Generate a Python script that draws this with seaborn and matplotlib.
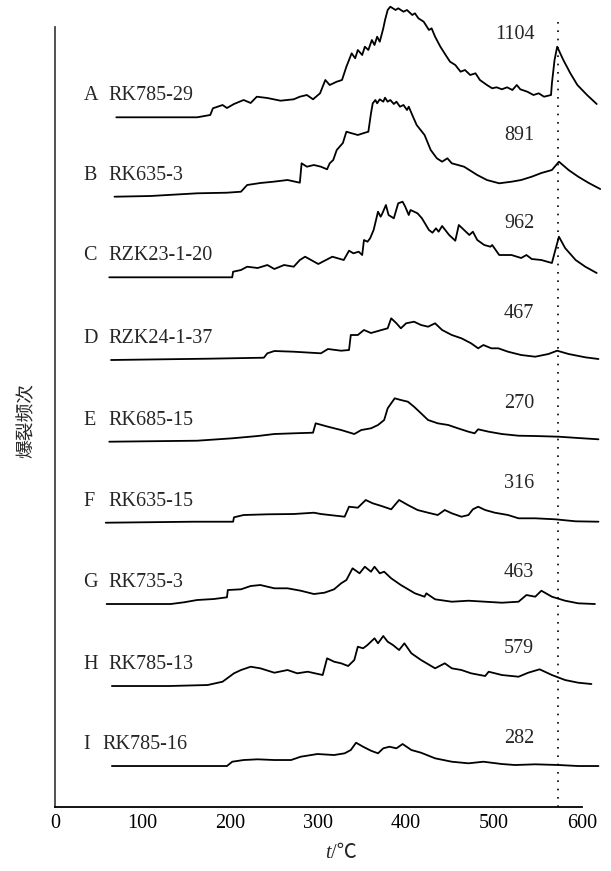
import numpy as np
import pandas as pd
import seaborn as sns
import matplotlib.pyplot as plt

# sample names and total decrepitation counts, top to bottom
letters = ["A", "B", "C", "D", "E", "F", "G", "H", "I"]
samples = ["RK785-29", "RK635-3", "RZK23-1-20", "RZK24-1-37", "RK685-15",
           "RK635-15", "RK735-3", "RK785-13", "RK785-16"]
counts = ["1104", "891", "962", "467", "270", "316", "463", "579", "282"]

# each curve is read as (t, height above its own flat start)
a_t = [70, 162, 177, 180, 191, 196, 204, 215, 223, 230, 242, 257, 272, 279, 287, 294, 302, 308,
       313, 321, 327, 332, 338, 342, 345, 350, 353, 357, 361, 364, 367, 370, 374, 376, 379, 382,
       388, 391, 397, 401, 407, 410, 414, 420, 426, 429, 433, 439, 445, 450, 456, 462, 467, 473,
       479, 484, 492, 498, 503, 509, 515, 521, 526, 530, 538, 545, 551, 557, 565, 566, 569, 572,
       579, 587, 595, 606, 617]
a_y = [0, 0, 2.3, 9, 12.3, 9.3, 13.3, 17.3, 14.3, 20.6, 19.3, 16.6, 18, 20.6, 22.3, 18, 24, 37.3,
       32.3, 35.6, 37.3, 50.6, 64, 59, 67.3, 62.3, 70.6, 67.3, 77.3, 72.3, 80.6, 75.6, 89, 97.3,
       107.3, 110.6, 107.3, 109, 105.6, 107.3, 102.3, 104, 99, 95.6, 87.3, 89, 80.6, 70.6, 62.3,
       55.6, 52.3, 45.6, 47.3, 42.3, 44, 37.3, 32.3, 29, 30, 28, 30, 27.3, 32.3, 28, 25.6, 22.3,
       24, 20.6, 22.3, 34, 57.3, 70.6, 57.3, 44, 32.3, 22.3, 13.3]

b_t = [68, 109, 162, 196, 212, 219, 234, 249, 265, 279, 281, 287, 295, 303, 310, 313, 317, 321,
       328, 332, 337, 345, 352, 357, 360, 362, 365, 367, 370, 374, 376, 379, 382, 386, 389, 393,
       397, 401, 403, 407, 412, 421, 428, 435, 441, 447, 452, 466, 481, 492, 506, 520, 531, 543,
       554, 566, 574, 585, 596, 608, 621]
b_y = [0, 0.7, 3.4, 4, 5, 11.7, 13.7, 15, 16.7, 14, 33.4, 30, 31.7, 30, 27.4, 33.4, 36.7, 46.7,
       53.7, 65, 63.7, 61.7, 63.7, 65, 83.4, 93.4, 96.7, 93.4, 97.4, 95, 99, 95, 96.7, 92.7, 95,
       90, 91.7, 86.7, 90, 81.7, 71.7, 61.7, 46.7, 38.4, 35, 38.4, 33.4, 30, 21.7, 16.7, 13.4, 15,
       16.7, 20, 23.7, 26.7, 35, 26.7, 20, 13.7, 7.7]

c_t = [62, 202, 203, 212, 219, 231, 242, 250, 261, 272, 279, 285, 300, 316, 329, 335, 340, 346,
       350, 352, 356, 359, 363, 368, 371, 373, 377, 380, 386, 391, 396, 399, 403, 405, 413, 418,
       426, 430, 434, 437, 441, 449, 456, 460, 466, 472, 476, 481, 489, 496, 498, 506, 520, 531,
       537, 543, 554, 566, 569, 574, 581, 593, 604, 617]
c_y = [0, 0, 5.6, 7.3, 10.6, 9.3, 12.3, 8.3, 12.3, 10.6, 17.3, 20.6, 13.3, 20.6, 17.3, 26.6, 24,
       25.6, 22.3, 37.3, 35.6, 39, 47.3, 65.6, 60.6, 64, 72.3, 62.3, 59, 74, 75.6, 70.6, 62.3,
       67.3, 64, 59, 47.3, 44.6, 49, 45.6, 51.3, 42.3, 36.6, 52.3, 47.3, 42.3, 45.6, 37.3, 32.3,
       30.6, 32.3, 22.3, 22.3, 19.3, 22.3, 18.3, 17.3, 14.3, 24.3, 40.6, 29.3, 17.3, 10.6, 4.3]

d_t = [64, 174, 238, 242, 250, 272, 303, 311, 326, 335, 337, 345, 352, 360, 372, 379, 383, 389,
       394, 400, 409, 417, 425, 433, 441, 452, 463, 474, 482, 488, 497, 505, 516, 531, 547, 562,
       572, 585, 604, 619]
d_y = [0, 1.3, 2.3, 6.7, 9, 8.3, 6.7, 11, 9.3, 10, 25, 25, 30, 27, 30, 31.7, 41.7, 36.7, 31.7,
       36.7, 38.3, 35, 33.3, 36.7, 30, 25, 21.7, 16.7, 11.7, 15, 11.7, 11.7, 8.3, 5, 3.3, 6, 9.3,
       6, 2.7, 1]

e_t = [62, 162, 202, 231, 250, 272, 294, 297, 311, 326, 341, 349, 360, 368, 375, 379, 383, 387,
       394, 402, 409, 417, 425, 436, 448, 459, 471, 478, 482, 494, 509, 528, 547, 574, 596, 619]
e_y = [0, 1, 3.4, 5.7, 7.7, 8.4, 9, 18.4, 15, 11.7, 7.7, 11.7, 13.4, 16.7, 21.7, 33.4, 38.4, 43.4,
       41.7, 40, 35, 28.4, 21.7, 18.4, 16.7, 13.4, 10, 8.4, 12.4, 10, 7.7, 6, 5.7, 5, 3.7, 2.4]

f_t = [58, 158, 203, 204, 215, 242, 272, 295, 303, 330, 335, 345, 354, 362, 372, 383, 392, 402,
       413, 425, 436, 444, 452, 463, 471, 476, 482, 490, 501, 516, 528, 547, 570, 593, 619]
f_y = [0, 1, 1, 5.4, 7.7, 8.4, 8.7, 10, 8.7, 6, 16, 15, 22.7, 19.4, 16.7, 13.4, 22.7, 17.7, 12.7,
       10, 7.7, 12.7, 9.4, 6, 7.7, 13.4, 16, 12.7, 10, 7.7, 4.4, 4.4, 3.4, 1.4, 1]

g_t = [59, 132, 147, 162, 181, 196, 197, 212, 223, 234, 250, 265, 280, 295, 307, 318, 326, 332,
       339, 347, 353, 360, 364, 370, 375, 383, 394, 410, 421, 423, 433, 452, 471, 490, 509, 528,
       537, 547, 554, 566, 581, 596, 615]
g_y = [0, 0, 1.7, 4, 5, 6.7, 14, 14.7, 18, 19, 15.7, 15.7, 13.3, 10, 11.3, 14.7, 20.7, 24, 35.7,
       30.7, 37.3, 32.3, 37.3, 30.7, 32.3, 25.7, 19, 10.7, 7.3, 10.7, 4.7, 2.3, 3.3, 2.3, 1.3, 2.3,
       9, 7.3, 13.3, 7.3, 3.3, 0.7, 0]

h_t = [65, 130, 174, 191, 204, 212, 223, 234, 250, 265, 276, 288, 305, 310, 318, 326, 334, 341,
       345, 351, 356, 364, 368, 374, 379, 385, 392, 398, 406, 417, 433, 444, 452, 463, 474, 490,
       494, 509, 528, 539, 552, 566, 581, 596, 611]
h_y = [0, 0, 1, 4.3, 12.7, 16, 19.3, 17.7, 13.3, 16, 12.7, 14.3, 11, 27.7, 24.3, 22.7, 20, 26,
       39.3, 37.7, 41, 47.7, 42.7, 50, 44.3, 41, 36, 42.7, 32.7, 26, 17.7, 22.7, 17.7, 16, 12.7, 10,
       14.3, 11, 9.3, 13.3, 16.7, 11, 6, 3.3, 2]

i_t = [65, 196, 202, 215, 231, 250, 269, 280, 299, 318, 330, 337, 343, 351, 360, 368, 374, 381,
       389, 396, 406, 417, 433, 452, 471, 488, 509, 524, 547, 574, 596, 619]
i_y = [0, 0, 4.3, 6, 6.7, 6, 6, 9.3, 12, 11, 12.7, 16, 23.3, 19.3, 15.3, 12.7, 17.7, 19.3, 17.7,
       22, 16, 13.3, 7.7, 4.3, 2.7, 4.3, 2, 1, 1.7, 1, 0, 0]

curve_t = [a_t, b_t, c_t, d_t, e_t, f_t, g_t, h_t, i_t]
curve_y = [a_y, b_y, c_y, d_y, e_y, f_y, g_y, h_y, i_y]

# layout: vertical shift of every curve, where its labels sit
offsets = [689.4, 610.0, 529.4, 446.7, 365.0, 284.0, 202.7, 120.7, 40.7]
count_dy = [78, 56.7, 49.3, 41.7, 33.4, 34.4, 27.3, 32.7, 22.7]
name_x = [61, 61, 61, 61, 61, 61, 61, 61, 54.5]
quartz_t = 573.5

frames = []
for k in range(len(samples)):
    frames.append(pd.DataFrame({
        "t": curve_t[k],
        "y": np.array(curve_y[k]) + offsets[k],
        "sample": samples[k],
    }))
df = pd.concat(frames, ignore_index=True)

sns.set_theme(style="white")
plt.rcParams["font.family"] = ["Liberation Serif", "Noto Sans CJK SC", "DejaVu Sans"]

fig = plt.figure(figsize=(6.11, 8.71), dpi=100)
ax = fig.add_axes([0.0897, 0.0738, 0.8984, 0.9262])

sns.lineplot(data=df, x="t", y="y", units="sample", estimator=None, sort=False,
             color="black", lw=1.3, ax=ax, legend=False)
ax.axvline(quartz_t, ymax=0.975, color="black", lw=1.2, ls=(0, (1, 4)))

for k in range(len(samples)):
    base = offsets[k]
    ax.text(32.5, base + 17, letters[k], fontsize=14.5, ha="left", va="baseline")
    ax.text(name_x[k], base + 17, samples[k], fontsize=14.5, ha="left", va="baseline")
    ax.text(546, base + count_dy[k], counts[k], fontsize=14.5, ha="right", va="baseline")

ax.set_xlim(0, 625)
ax.set_ylim(0, 806.7)
ax.set_xticks([0, 100, 200, 300, 400, 500, 600])
ax.set_yticks([])
ax.tick_params(axis="x", direction="in", length=6.5, width=1.1, labelsize=14.5, pad=5.5,
               color="black", labelcolor="black")
for side in ["top", "right"]:
    ax.spines[side].set_visible(False)
ax.spines["bottom"].set_bounds(0, 600)
ax.spines["bottom"].set_color("black")
ax.spines["bottom"].set_linewidth(1.3)
ax.spines["left"].set_bounds(0, 779.7)
ax.spines["left"].set_color("#444444")
ax.spines["left"].set_linewidth(1.3)
ax.set_xlabel("")
ax.set_ylabel("")

fig.text(26 / 611, 1 - 420 / 871, "爆裂频次", rotation=90, fontsize=13.5,
         family=["Noto Sans CJK SC"], ha="center", va="center")
fig.text(331 / 611, 1 - 853 / 871, "t", style="italic", fontsize=14.5, ha="right", va="center")
fig.text(331 / 611, 1 - 853 / 871, "/℃", fontsize=14.5, ha="left", va="center")

fig.savefig("out.png", dpi=100)
